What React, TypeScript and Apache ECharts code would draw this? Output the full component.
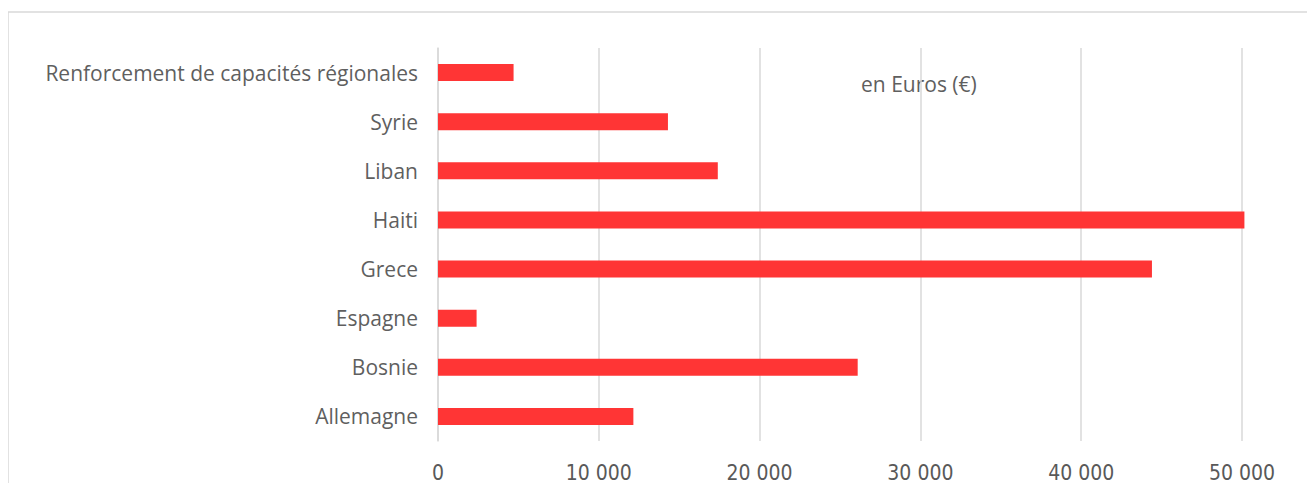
import React, { useEffect, useRef } from "react";
import * as echarts from "echarts";

const categories = [
  "Allemagne",
  "Bosnie",
  "Espagne",
  "Grece",
  "Haiti",
  "Liban",
  "Syrie",
  "Renforcement de capacités régionales",
];
const values = [12150, 26100, 2400, 44400, 50150, 17400, 14300, 4700];
const xTicks = [0, 10000, 20000, 30000, 40000, 50000];
const unitLabel = "en Euros (€)";

export default function App() {
  const ref = useRef<HTMLDivElement>(null);
  useEffect(() => {
    if (!ref.current) return;
    const chart = echarts.init(ref.current, null, { renderer: "svg" });
    chart.setOption({
      animation: false,
      grid: { left: 430, right: 73, top: 40, bottom: 34, containLabel: false },
      xAxis: {
        type: "value",
        min: xTicks[0],
        max: xTicks[xTicks.length - 1],
        interval: 10000,
        axisLine: { show: false },
        axisTick: { show: false },
        splitLine: { show: true, lineStyle: { color: "#d9d9d9", width: 1.5 } },
        axisLabel: {
          margin: 21,
          fontFamily: "'Liberation Sans Narrow', 'DejaVu Sans Condensed', sans-serif",
          fontSize: 21,
          color: "#595959",
          formatter: (v: number) => String(v).replace(/\B(?=(\d{3})+(?!\d))/g, " "),
        },
      },
      yAxis: {
        type: "category",
        data: categories,
        axisLine: { show: true, lineStyle: { color: "#d9d9d9", width: 1.5 } },
        axisTick: { show: false },
        axisLabel: {
          margin: 20,
          fontFamily: "'Open Sans', sans-serif",
          fontSize: 21,
          color: "#5f5f5f",
        },
      },
      series: [
        {
          type: "bar",
          data: values,
          barWidth: 17,
          clip: false,
          itemStyle: { color: "#ff3535" },
        },
      ],
      graphic: [
        {
          type: "rect",
          shape: { x: 0, y: 4, width: 1400, height: 600 },
          style: { fill: "none", stroke: "#d9d9d9", lineWidth: 1.5 },
          silent: true,
        },
        {
          type: "text",
          x: 853,
          y: 76,
          style: {
            text: unitLabel,
            fontFamily: "'Open Sans', sans-serif",
            fontSize: 21,
            fill: "#5f5f5f",
            textVerticalAlign: "middle",
          },
        },
      ],
    });
    return () => chart.dispose();
  }, []);
  return <div ref={ref} style={{ width: 1307, height: 475 }} />;
}
